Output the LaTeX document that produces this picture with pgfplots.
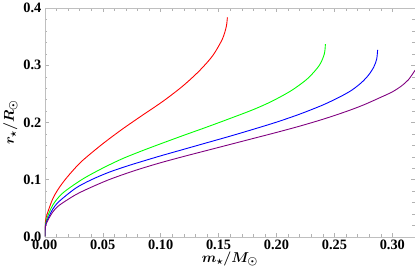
\documentclass[border=0pt]{standalone}
\usepackage{pgfplots}
\pgfplotsset{compat=1.18}
\usepackage{fontspec}
\setmainfont{Liberation Serif}
\usepackage{bm}
\begin{document}
\begin{tikzpicture}
\begin{axis}[
  scale only axis, width=374pt, height=231pt,
  xmin=0, xmax=0.3194, ymin=0, ymax=0.4,
  axis line style={draw=gray!50},
  tick style={gray!60, line width=0.4pt},
  major tick length=4pt, minor tick length=2.5pt,
  tick align=inside,
  xtick={0,0.05,...,0.30}, ytick={0,0.1,...,0.4},
  minor x tick num=4, minor y tick num=4,
  /pgf/number format/assume math mode=true,
  xticklabel={\textbf{\pgfmathprintnumber[fixed,fixed zerofill,precision=2]{\tick}}},
  yticklabel={\textbf{\pgfmathprintnumber[fixed,fixed zerofill,precision=1]{\tick}}},
  tick label style={font=\fontsize{14.5}{14.5}\selectfont},
  scaled ticks=false,
  xlabel={$\bm{m_\star/M_\odot}$},
  ylabel={$\bm{r_\star/R_\odot}$},
  label style={font=\fontsize{15}{15}\selectfont},
  xlabel style={yshift=5pt},
  ylabel style={yshift=-1pt},
  every axis plot/.append style={line width=0.9pt, smooth},
]
\addplot[red] coordinates {(0,0)(0.0003,0.02)(0.0015,0.036)(0.0068,0.066)(0.012,0.0845)(0.018,0.101)(0.025,0.1175)(0.0324,0.133)(0.049,0.161)(0.0664,0.1875)(0.0835,0.2115)(0.102,0.237)(0.119,0.2635)(0.1335,0.2905)(0.145,0.317)(0.1533,0.346)(0.1567,0.368)(0.1576,0.384)};
\addplot[color={rgb,255:red,0;green,255;blue,0}] coordinates {(0,0)(0.0003,0.016)(0.0015,0.030)(0.0068,0.055)(0.0153,0.076)(0.032,0.100)(0.049,0.119)(0.0664,0.136)(0.0835,0.150)(0.1005,0.163)(0.12,0.1775)(0.14,0.192)(0.16,0.207)(0.18,0.2225)(0.196,0.237)(0.213,0.256)(0.227,0.277)(0.237,0.300)(0.2413,0.320)(0.2422,0.337)};
\addplot[blue] coordinates {(0,0)(0.0003,0.014)(0.0015,0.026)(0.0068,0.048)(0.0125,0.062)(0.0267,0.085)(0.04,0.0995)(0.055,0.1125)(0.07,0.123)(0.0835,0.1315)(0.10,0.1415)(0.12,0.153)(0.14,0.1645)(0.16,0.176)(0.18,0.188)(0.20,0.2005)(0.22,0.2145)(0.24,0.2305)(0.255,0.245)(0.265,0.2565)(0.2735,0.270)(0.2795,0.283)(0.2840,0.297)(0.2865,0.311)(0.2873,0.327)};
\addplot[color={rgb,255:red,128;green,0;blue,128}] coordinates {(0,0)(0.0003,0.013)(0.0015,0.024)(0.0068,0.043)(0.0125,0.055)(0.0267,0.0735)(0.04,0.0865)(0.055,0.0995)(0.07,0.1105)(0.0835,0.1195)(0.10,0.1295)(0.12,0.1405)(0.14,0.151)(0.16,0.1615)(0.18,0.172)(0.20,0.1825)(0.22,0.1935)(0.24,0.2055)(0.26,0.219)(0.275,0.2305)(0.29,0.244)(0.30,0.2535)(0.308,0.264)(0.314,0.275)(0.3194,0.2905)(0.322,0.297)};
\end{axis}
\end{tikzpicture}
\end{document}
